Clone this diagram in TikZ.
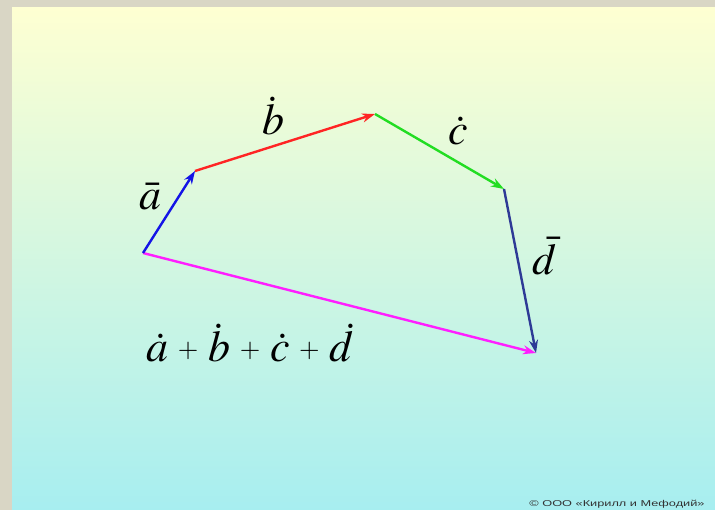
\documentclass[tikz,border=0pt]{standalone}
\usepackage{mathptmx}
\usepackage{fontspec}
\setmainfont{Liberation Serif}
\newfontfamily\copyfont{Liberation Sans}
\usetikzlibrary{arrows.meta,positioning}

\definecolor{framegray}{HTML}{D9D6C5}
\definecolor{paleyellow}{HTML}{FEFFD2}
\definecolor{palemint}{HTML}{D6F6E2}
\definecolor{palecyan}{HTML}{A7EEF0}
\definecolor{vecblue}{HTML}{1414E6}
\definecolor{vecred}{HTML}{FF2424}
\definecolor{vecgreen}{HTML}{22DD22}
\definecolor{vecnavy}{HTML}{2E3A96}
\definecolor{vecmagenta}{HTML}{FF1EFF}

\newcommand{\smallplus}{\hspace{.22em}\raisebox{.1em}{$\scriptscriptstyle+$}\hspace{.22em}}

\begin{document}
\begin{tikzpicture}[x=1pt, y=-1pt,
    vec/.style={-{Stealth[length=13pt, width=9pt]}, line width=2.4pt},
    lbl/.style={inner sep=0pt, font=\fontsize{44}{48}\selectfont}
]
    % frame and slide background
    \fill[framegray] (0,0) rectangle (715,510);
    \shade[top color=paleyellow, middle color=palemint, bottom color=palecyan] (12,8) rectangle (715,510);
    \useasboundingbox (0,0) rectangle (715,510);

    % polygon vertices
    \coordinate (O) at (143,253);
    \coordinate (A) at (195,171);
    \coordinate (B) at (375,114);
    \coordinate (C) at (504,189);
    \coordinate (D) at (536,353);

    % vectors
    \draw[vec, vecmagenta] (O) -- (D);
    \draw[vec, vecblue] (O) -- (A);
    \draw[vec, vecred] (A) -- (B);
    \draw[vec, vecgreen] (B) -- (C);
    \draw[vec, vecnavy] (C) -- (D);

    % labels
    \node[lbl] (lblA) at (150,197) {$\bar{a}$};
    \node[lbl] (lblB) at (273,116) {$\dot{b}$};
    \node[lbl] (lblC) at (458,131) {$\dot{c}$};
    \node[lbl] (lblD) at (545,256) {$\bar{d}$};
    \node[lbl] (lblSum) at (250,343) {$\dot{a}\smallplus\dot{b}\smallplus\dot{c}\smallplus\dot{d}$};

    \node[inner sep=0pt, text=black!80, font=\copyfont\fontsize{8.5}{9}\selectfont] (copyright) at (617,504)
        {\scalebox{1.5}[1]{© ООО «Кирилл и Мефодий»}};
\end{tikzpicture}
\end{document}
